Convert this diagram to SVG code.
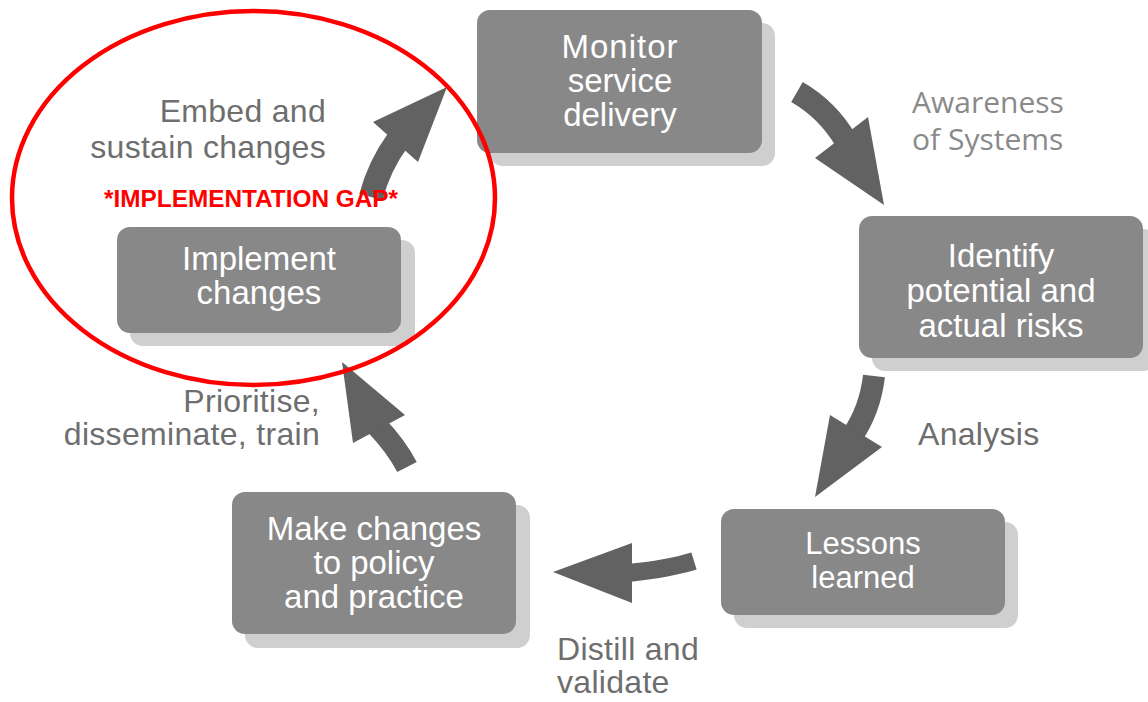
<svg xmlns="http://www.w3.org/2000/svg" width="1148" height="702" viewBox="0 0 1148 702">
<style>
.shadow{fill:#cfcfcf}
.box{fill:#888888}
.bt{font-family:"Liberation Sans",Arial,sans-serif;font-size:33px;fill:#ffffff;text-anchor:middle}
.lbl{font-family:"Liberation Sans",Arial,sans-serif;font-size:32px;fill:#6e6e6e;letter-spacing:0.3px}
.cal{font-family:"Open Sans","Liberation Sans",sans-serif;font-size:30px;fill:#8a8a8a}
.arr{fill:#626262}
.shaft{fill:none;stroke:#626262;stroke-linecap:butt}
</style>
<rect width="1148" height="702" fill="#ffffff"/>

<g id="node-monitor">
<rect class="shadow" x="490" y="23" width="285" height="143" rx="13"/>
<rect class="box" x="477" y="10" width="285" height="143" rx="13"/>
<text class="bt" x="620" y="58" letter-spacing="1">Monitor</text>
<text class="bt" x="620" y="92">service</text>
<text class="bt" x="620" y="126">delivery</text>
</g>

<g id="node-identify">
<rect class="shadow" x="872" y="229" width="284" height="142" rx="13"/>
<rect class="box" x="859" y="216" width="284" height="142" rx="13"/>
<text class="bt" x="1001" y="267">Identify</text>
<text class="bt" x="1001" y="302">potential and</text>
<text class="bt" x="1001" y="337">actual risks</text>
</g>

<g id="node-lessons">
<rect class="shadow" x="734" y="522" width="284" height="106" rx="13"/>
<rect class="box" x="721" y="509" width="284" height="106" rx="13"/>
<text class="bt" x="863" y="554" style="font-size:31px">Lessons</text>
<text class="bt" x="863" y="588" style="font-size:31px">learned</text>
</g>

<g id="node-make">
<rect class="shadow" x="245" y="505" width="285" height="143" rx="13"/>
<rect class="box" x="232" y="492" width="284" height="142" rx="13"/>
<text class="bt" x="374" y="540">Make changes</text>
<text class="bt" x="374" y="574">to policy</text>
<text class="bt" x="374" y="608">and practice</text>
</g>

<g id="node-implement">
<rect class="shadow" x="130" y="240" width="285" height="106" rx="13"/>
<rect class="box" x="117" y="227" width="284" height="106" rx="13"/>
<text class="bt" x="259" y="270">Implement</text>
<text class="bt" x="259" y="304">changes</text>
</g>

<g id="connectors">
<path class="shaft" stroke-width="24" d="M371,197 Q379,166 398,140"/>
<polygon class="arr" points="447,87 373,122 418,162"/>

<path class="shaft" stroke-width="23" d="M797,92 Q828,110 846,141"/>
<polygon class="arr" points="884,205 815,158 868,117"/>

<path class="shaft" stroke-width="22" d="M874,376 Q870,410 852,436"/>
<polygon class="arr" points="815,497 830,415 882,447"/>

<path class="shaft" stroke-width="18" d="M694,561 Q668,569 628,573"/>
<polygon class="arr" points="553,572 632,543 632,603"/>

<path class="shaft" stroke-width="22" d="M407,467 Q396,446 376,425"/>
<polygon class="arr" points="342,362 353,443 405,415"/>
</g>

<g id="labels">
<text class="lbl" x="326" y="122" text-anchor="end">Embed and</text>
<text class="lbl" x="326" y="158" text-anchor="end">sustain changes</text>
<text class="cal" x="912" y="113">Awareness</text>
<text class="cal" x="912" y="150">of Systems</text>
<text class="lbl" x="918" y="445">Analysis</text>
<text class="lbl" x="557" y="660">Distill and</text>
<text class="lbl" x="557" y="693">validate</text>
<text class="lbl" x="320" y="412" text-anchor="end">Prioritise,</text>
<text class="lbl" x="320" y="445" text-anchor="end">disseminate, train</text>
</g>

<g id="implementation-gap">
<ellipse cx="253.5" cy="198" rx="241.5" ry="187" fill="none" stroke="#ff0000" stroke-width="4.5"/>
<text x="104" y="207" textLength="294" lengthAdjust="spacingAndGlyphs" font-family="'Liberation Sans',Arial,sans-serif" font-weight="bold" font-size="23.5" fill="#ff0000">*IMPLEMENTATION GAP*</text>
</g>
</svg>
